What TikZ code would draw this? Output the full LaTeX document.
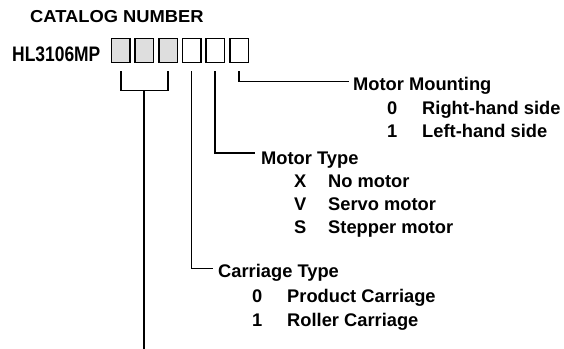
\documentclass[tikz,border=0pt]{standalone}
\usepackage{fontspec}
\setmainfont{Liberation Sans}
\usepackage{graphicx}
\begin{document}
\begin{tikzpicture}[x=1pt,y=-1pt,
  lbl/.style={anchor=base west,inner sep=0pt,font=\fontsize{18.3}{20}\selectfont\bfseries},
  cbox/.style={draw=black,line width=1.4pt,minimum width=18.5pt,minimum height=24.5pt,inner sep=0pt,anchor=north west},
  gbox/.style={cbox,fill=black!13},
  wire/.style={line width=1.8pt},
  thinwire/.style={line width=1.1pt}]
\useasboundingbox (0,0) rectangle (564,348);
\node[lbl] (cat) at (30,22.5) {\scalebox{1.06}[1]{\fontsize{17.3}{20}\selectfont\bfseries CATALOG NUMBER}};
\node[lbl] (hl) at (12,61) {\scalebox{0.83}[1]{\fontsize{21}{24}\selectfont\bfseries HL3106MP}};
% boxes
\node[gbox] (b1) at (110.7,37.5) {};
\node[gbox] (b2) at (134.4,37.5) {};
\node[gbox] (b3) at (158.1,37.5) {};
\node[cbox] (b4) at (181.8,37.5) {};
\node[cbox] (b5) at (205.2,37.5) {};
\node[cbox] (b6) at (229.2,37.5) {};
% labels
\node[lbl] (mm) at (353,90) {Motor Mounting};
\node[lbl] (mm0) at (387,114) {0};
\node[lbl] (mm0t) at (422,114) {Right-hand side};
\node[lbl] (mm1) at (387,137) {1};
\node[lbl] (mm1t) at (422,137) {Left-hand side};
\node[lbl] (mt) at (261,164) {Motor Type};
\node[lbl] (mtx) at (294,187) {X};
\node[lbl] (mtxt) at (328,187) {No motor};
\node[lbl] (mtv) at (294,210) {V};
\node[lbl] (mtvt) at (328,210) {Servo motor};
\node[lbl] (mts) at (294,233) {S};
\node[lbl] (mtst) at (328,233) {Stepper motor};
\node[lbl] (ct) at (218,277) {Carriage Type};
\node[lbl] (ct0) at (252,302) {0};
\node[lbl] (ct0t) at (287,302) {Product Carriage};
\node[lbl] (ct1) at (252,326) {1};
\node[lbl] (ct1t) at (287,326) {Roller Carriage};
% connectors
\draw[wire] (b1.south) ++(0,8) -- ++(0,19) -| ([yshift=-8pt]b3.south);
\draw[wire] (b2.south) ++(0,27) -- ++(0,262);
\draw[thinwire] (b4.south) ++(0,8) |- ([xshift=-5pt,yshift=8.5pt]ct.base west);
\draw[wire] (b5.south) ++(0,8) |- ([xshift=-6pt,yshift=11pt]mt.base west);
\draw[wire] (b6.south) ++(0,8) |- ([xshift=-4pt,yshift=8.5pt]mm.base west);
\end{tikzpicture}
\end{document}
